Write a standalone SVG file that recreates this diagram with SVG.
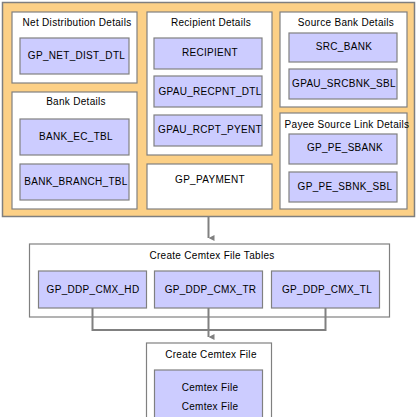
<svg xmlns="http://www.w3.org/2000/svg" width="417" height="417" viewBox="0 0 417 417">
<defs>
<style>
.outer{fill:#FCD086;stroke:#7f7f7f;stroke-width:1.5}
.grp{fill:#ffffff;stroke:#808080;stroke-width:1.2}
.tbl{fill:#CCCCFF;stroke:#808080;stroke-width:1.2}
text{font-family:"Liberation Sans",Arial,sans-serif;font-size:10px;fill:#000;text-anchor:middle;letter-spacing:0.3px}
.conn{fill:none;stroke:#808080;stroke-width:2}
</style>
<marker id="arr" viewBox="0 0 6 6" refX="3" refY="6" markerWidth="6" markerHeight="6" markerUnits="userSpaceOnUse" orient="auto-start-reverse">
<path d="M0,0 L6,0 L3,6 Z" fill="#808080"/>
</marker>
</defs>
<rect id="payment-setup" class="outer" x="2.5" y="2.5" width="412" height="214"/>
<g id="net-distribution-details">
<rect class="grp" x="12" y="12" width="125" height="71"/>
<text x="77" y="26">Net Distribution Details</text>
<rect class="tbl" x="20" y="38" width="109" height="36"/>
<text x="76.5" y="59">GP_NET_DIST_DTL</text>
</g>
<g id="bank-details">
<rect class="grp" x="12" y="92" width="125" height="117"/>
<text x="76" y="105">Bank Details</text>
<rect class="tbl" x="20" y="119" width="109" height="36"/>
<text x="76" y="140">BANK_EC_TBL</text>
<rect class="tbl" x="20" y="164" width="109" height="36"/>
<text x="76" y="185">BANK_BRANCH_TBL</text>
</g>
<g id="recipient-details">
<rect class="grp" x="147" y="12" width="125" height="143"/>
<text x="211" y="26">Recipient Details</text>
<rect class="tbl" x="154" y="38" width="108" height="31"/>
<text x="210" y="56">RECIPIENT</text>
<rect class="tbl" x="154" y="76" width="108" height="31"/>
<text x="210" y="94.5">GPAU_RECPNT_DTL</text>
<rect class="tbl" x="154" y="115" width="108" height="31"/>
<text x="210" y="132.5">GPAU_RCPT_PYENT</text>
</g>
<g id="gp-payment">
<rect class="grp" x="147" y="164" width="125" height="45"/>
<text x="210" y="183">GP_PAYMENT</text>
</g>
<g id="source-bank-details">
<rect class="grp" x="280" y="12" width="127" height="95"/>
<text x="346" y="25.5">Source Bank Details</text>
<rect class="tbl" x="289" y="33" width="108" height="29"/>
<text x="344" y="50">SRC_BANK</text>
<rect class="tbl" x="289" y="69" width="108" height="30"/>
<text x="344" y="87">GPAU_SRCBNK_SBL</text>
</g>
<g id="payee-source-link-details">
<rect class="grp" x="280" y="113" width="127" height="96"/>
<text x="347" y="128">Payee Source Link Details</text>
<rect class="tbl" x="289" y="134" width="108" height="30"/>
<text x="345" y="151">GP_PE_SBANK</text>
<rect class="tbl" x="289" y="172" width="108" height="30"/>
<text x="345" y="189.5">GP_PE_SBNK_SBL</text>
</g>
<g id="create-cemtex-file-tables">
<rect class="grp" x="29.5" y="244" width="360" height="73"/>
<text x="212" y="259">Create Cemtex File Tables</text>
<rect class="tbl" x="38.5" y="271" width="108" height="37"/>
<text x="93" y="292.5">GP_DDP_CMX_HD</text>
<rect class="tbl" x="154.5" y="271" width="108" height="37"/>
<text x="210.5" y="292.5">GP_DDP_CMX_TR</text>
<rect class="tbl" x="271.5" y="271" width="108" height="37"/>
<text x="327" y="292.5">GP_DDP_CMX_TL</text>
</g>
<g id="create-cemtex-file">
<rect class="grp" x="146.5" y="343" width="125" height="90"/>
<text x="211" y="358">Create Cemtex File</text>
<rect class="tbl" x="154.5" y="370" width="108" height="60"/>
<text x="210" y="391">Cemtex File</text>
<text x="210" y="410">Cemtex File</text>
</g>
<g id="connectors">
<path class="conn" d="M208.5,217 V238" marker-end="url(#arr)"/>
<path class="conn" d="M92.5,308 V330 M208.5,308 V330 M325.5,308 V330 M91.5,330 H326.5"/>
<path class="conn" d="M208.5,330 V337" marker-end="url(#arr)"/>
</g>
</svg>
